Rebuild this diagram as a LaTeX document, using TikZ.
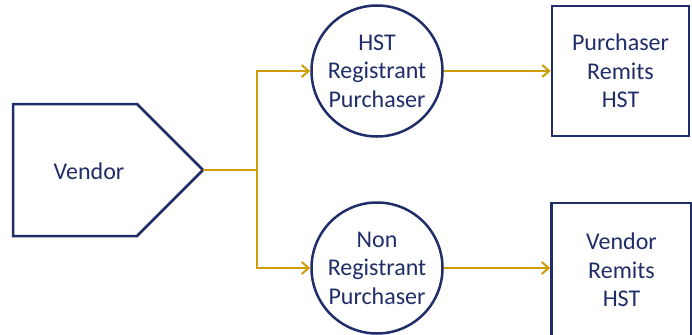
\documentclass[tikz,border=0pt]{standalone}
\usepackage{fontspec}
\setmainfont{Carlito}
\usetikzlibrary{arrows.meta}
\definecolor{navy}{RGB}{31,45,105}
\definecolor{gold}{RGB}{206,158,10}

\begin{document}
\begin{tikzpicture}[x=1pt,y=-1pt,
  txt/.style={text=navy, align=center, font=\fontsize{24}{28.5}\selectfont},
  hub/.style={txt, draw=navy, line width=2.5pt, circle, minimum size=131pt, inner sep=0pt},
  outbox/.style={txt, draw=navy, line width=2.5pt, minimum width=137pt, minimum height=130pt, inner sep=0pt},
  flow/.style={draw=gold, line width=2pt},
  arr/.style={flow, -{Straight Barb[length=7pt,width=12pt]}}]
\useasboundingbox (0,0) rectangle (692,334);
\draw[navy, line width=2.5pt, line join=miter] (13,104) -- (137,104) -- (203,170) coordinate (vtip) -- (137,236) -- (13,236) -- cycle;
\node[txt] (vendor) at (89,171) {Vendor};
\node[hub] (hstreg) at (377,71) {HST\\Registrant\\Purchaser};
\node[hub] (nonreg) at (377,268) {Non\\Registrant\\Purchaser};
\node[outbox] (purrem) at (620.5,71) {Purchaser\\Remits\\HST};
\node[outbox, minimum width=140pt, minimum height=134pt] (venrem) at (621.5,270) {Vendor\\Remits\\HST};
\coordinate (junc) at (257,170);
\draw[flow] (vtip) -- (junc);
\draw[arr] (junc) |- (hstreg.west);
\draw[arr] (junc) |- (nonreg.west);
\draw[arr] (hstreg.east) -- (hstreg.east -| purrem.west);
\draw[arr] (nonreg.east) -- (nonreg.east -| venrem.west);
\end{tikzpicture}
\end{document}
